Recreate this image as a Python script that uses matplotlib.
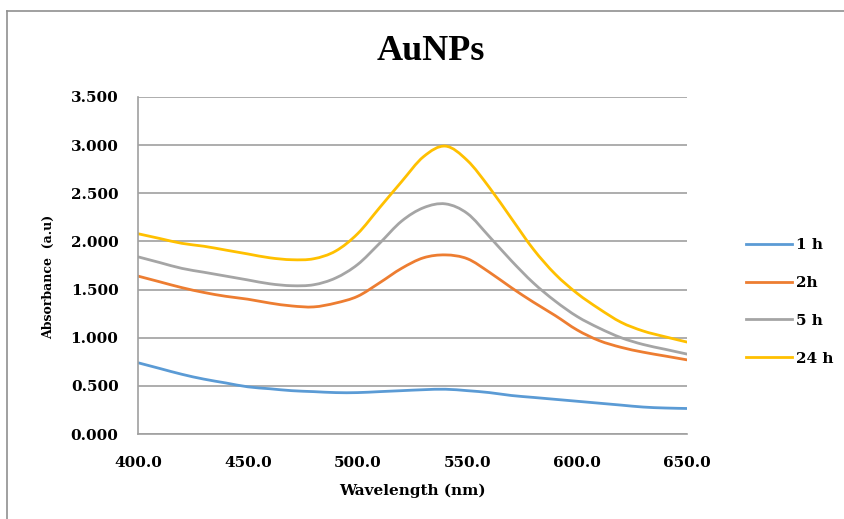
import matplotlib
matplotlib.use("Agg")
import matplotlib.pyplot as plt
from matplotlib.lines import Line2D
from matplotlib.path import Path
from matplotlib.patches import PathPatch

wavelength = [400, 410, 420, 430, 440, 450, 460, 470, 480, 490, 500, 510, 520,
              530, 540, 550, 560, 570, 580, 590, 600, 610, 620, 630, 640, 650]
abs_1h = [0.74, 0.68, 0.62, 0.57, 0.53, 0.49, 0.47, 0.45, 0.44, 0.43, 0.43, 0.44, 0.45,
          0.46, 0.465, 0.45, 0.43, 0.40, 0.38, 0.36, 0.34, 0.32, 0.30, 0.28, 0.27, 0.265]
abs_2h = [1.64, 1.58, 1.52, 1.47, 1.43, 1.40, 1.36, 1.33, 1.32, 1.36, 1.43, 1.57, 1.72,
          1.83, 1.86, 1.82, 1.68, 1.52, 1.37, 1.23, 1.08, 0.97, 0.90, 0.85, 0.81, 0.77]
abs_5h = [1.84, 1.78, 1.72, 1.68, 1.64, 1.60, 1.56, 1.54, 1.55, 1.62, 1.76, 1.98, 2.21,
          2.35, 2.39, 2.29, 2.05, 1.80, 1.57, 1.38, 1.22, 1.10, 1.00, 0.93, 0.88, 0.83]
abs_24h = [2.08, 2.03, 1.98, 1.95, 1.91, 1.87, 1.83, 1.81, 1.82, 1.90, 2.08, 2.35, 2.62,
           2.88, 2.99, 2.84, 2.56, 2.24, 1.92, 1.66, 1.46, 1.30, 1.16, 1.07, 1.01, 0.955]
labels = ["1 h", "2h", "5 h", "24 h"]
colors = ["#5B9BD5", "#ED7D31", "#A5A5A5", "#FFC000"]
x_ticks = [400, 450, 500, 550, 600, 650]
y_ticks = [0.0, 0.5, 1.0, 1.5, 2.0, 2.5, 3.0, 3.5]

plt.rcParams['font.family'] = ['DejaVu Serif']
plt.rcParams['font.weight'] = 'bold'

fig = plt.figure(figsize=(8.45, 5.19), dpi=100)
ax = fig.add_axes([138/845, 1-434/519, (687-138)/845, (434-97)/519])


def smooth_path(xs, ys):
    """Excel-like smoothed line: cubic Bezier through the data points."""
    n = len(xs)
    verts = [(xs[0], ys[0])]
    codes = [Path.MOVETO]
    for i in range(n - 1):
        x0, y0 = (xs[i-1], ys[i-1]) if i > 0 else (xs[i], ys[i])
        x1, y1 = xs[i], ys[i]
        x2, y2 = xs[i+1], ys[i+1]
        x3, y3 = (xs[i+2], ys[i+2]) if i + 2 < n else (x2, y2)
        c1 = (x1 + (x2 - x0) / 6.0, y1 + (y2 - y0) / 6.0)
        c2 = (x2 - (x3 - x1) / 6.0, y2 - (y3 - y1) / 6.0)
        verts += [c1, c2, (x2, y2)]
        codes += [Path.CURVE4] * 3
    return Path(verts, codes)


series = [abs_1h, abs_2h, abs_5h, abs_24h]
for s, c in zip(series, colors):
    ax.add_patch(PathPatch(smooth_path(wavelength, s), facecolor='none',
                           edgecolor=c, lw=2.0, capstyle='round', joinstyle='round'))

ax.set_xlim(400, 650)
ax.set_ylim(0, 3.5)
ax.set_xticks(x_ticks)
ax.set_xticklabels([f"{v:.1f}" for v in x_ticks])
ax.set_yticks(y_ticks)
ax.set_yticklabels([f"{v:.3f}" for v in y_ticks])
ax.tick_params(axis='both', length=0, labelsize=11)
ax.tick_params(axis='y', pad=14)
ax.tick_params(axis='x', pad=16)
for lbl in ax.get_xticklabels() + ax.get_yticklabels():
    lbl.set_fontweight('bold')

ax.yaxis.grid(True, color='#A0A0A0', lw=1.2)
ax.set_axisbelow(True)
for sp in ['top', 'right']:
    ax.spines[sp].set_visible(False)
for sp in ['left', 'bottom']:
    ax.spines[sp].set_color('#A0A0A0')
    ax.spines[sp].set_linewidth(1.2)

fig.text(412/845, 1-491/519, "Wavelength (nm)", ha='center', va='center',
         fontsize=11, fontweight='bold')
fig.text(49/845, 1-277/519, "Absorbance  (a.u)", ha='center', va='center',
         rotation=90, fontsize=9, fontweight='bold')
fig.text(431/845, 1-51/519, "AuNPs", ha='center', va='center',
         fontsize=26, fontweight='bold', family='Liberation Serif')

handles = [Line2D([0], [0], color=c, lw=2.0) for c in colors]
leg = fig.legend(handles, labels, loc='center left',
                 bbox_to_anchor=(732/845, 1-302/519), frameon=False,
                 handlelength=3.0, handletextpad=0.3,
                 labelspacing=1.55, prop={'weight': 'bold', 'size': 11, 'family': 'DejaVu Serif'})

# outer chart border (top and left)
fig.add_artist(Line2D([7/845, 7/845], [0, 1-11/519], color='#909090', lw=1.2,
                      transform=fig.transFigure))
fig.add_artist(Line2D([7/845, 1], [1-11/519, 1-11/519], color='#909090', lw=1.2,
                      transform=fig.transFigure))

fig.savefig("out.png", dpi=100)
